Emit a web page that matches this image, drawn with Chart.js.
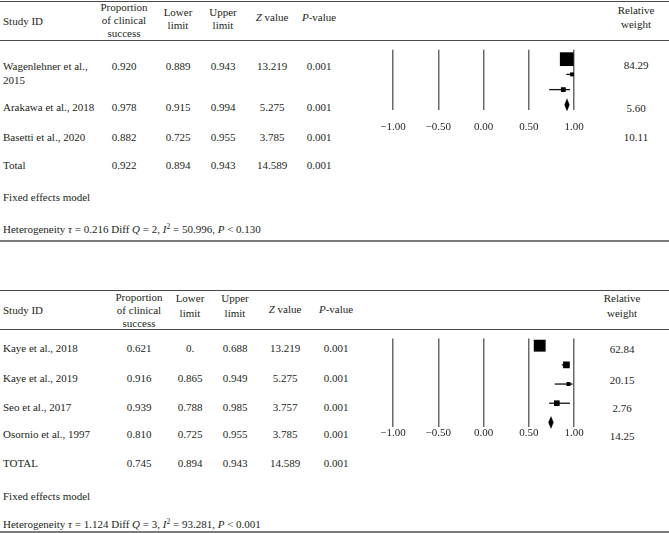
<!DOCTYPE html>
<html><head><meta charset="utf-8">
<script src="https://cdn.jsdelivr.net/npm/chart.js@4.4.1/dist/chart.umd.min.js"></script>
<style>
html,body{margin:0;padding:0;background:#fff;}
#page{position:relative;width:669px;height:533px;overflow:hidden;font-family:"Liberation Serif","Times New Roman",serif;font-size:11px;color:#231f20;}
.t{position:absolute;white-space:nowrap;line-height:14px;}
.c{text-align:center;width:100px;margin-left:-50px;}
.w{white-space:normal;width:96px;}
.hl{position:absolute;left:0;width:669px;}
canvas{position:absolute;}
sup{font-size:7.5px;line-height:0;vertical-align:4px;}
</style></head><body><div id="page"></div>
<script>
// ---------------- DATA ----------------
const headers = ["Study ID", "Proportion of clinical success", "Lower limit", "Upper limit", "Z value", "P-value", "Relative weight"];
const tickValues = [-1.00, -0.50, 0.00, 0.50, 1.00];

// Table / plot 1
const studies1 = ["Wagenlehner et al., 2015", "Arakawa et al., 2018", "Basetti et al., 2020"];
const prop1   = ["0.920", "0.978", "0.882"];
const lower1  = ["0.889", "0.915", "0.725"];
const upper1  = ["0.943", "0.994", "0.955"];
const z1      = ["13.219", "5.275", "3.785"];
const p1      = ["0.001", "0.001", "0.001"];
const weight1 = ["84.29", "5.60", "10.11"];
const total1  = ["Total", "0.922", "0.894", "0.943", "14.589", "0.001"];
const het1    = ["0.216", "2", "50.996", "< 0.130"];

// Table / plot 2
const studies2 = ["Kaye et al., 2018", "Kaye et al., 2019", "Seo et al., 2017", "Osornio et al., 1997"];
const prop2   = ["0.621", "0.916", "0.939", "0.810"];
const lower2  = ["0.", "0.865", "0.788", "0.725"];
const upper2  = ["0.688", "0.949", "0.985", "0.955"];
const z2      = ["13.219", "5.275", "3.757", "3.785"];
const p2      = ["0.001", "0.001", "0.001", "0.001"];
const weight2 = ["62.84", "20.15", "2.76", "14.25"];
const total2  = ["TOTAL", "0.745", "0.894", "0.943", "14.589", "0.001"];
const het2    = ["1.124", "3", "93.281", "< 0.001"];

const modelLabel = "Fixed effects model";

// ---------------- LAYOUT (positions only) ----------------
const L1 = {top:1, head:40, bottom:240, rows:[66,107,137,165], fixed:197, het:229,
  wy:[65,108,137], cols:[124,178,223,272,319], wcol:636,
  hProp:[7,20,33], hLim:[12,25], hStudy:21, hZP:17, hRel:[10,24],
  chart:{left:363, top:40, width:241, height:100, axisH:30, tickPad:11, yMin:-0.62, yMax:3.34}};
const L2 = {top:290, head:329, bottom:531, rows:[348,378,407,434,463], fixed:496, het:524,
  wy:[349,380,408,436], cols:[139,190,235,285,336], wcol:622,
  hProp:[297,310,323], hLim:[298,313], hStudy:310, hZP:309, hRel:[298,313],
  chart:{left:363, top:330, width:241, height:114, axisH:17, tickPad:0, yMin:-0.38, yMax:4.24}};

const page = document.getElementById('page');
function txt(html, x, y, cls, lines) {
  const d = document.createElement('div');
  d.className = 't ' + (cls || '');
  d.innerHTML = html;
  d.style.left = x + 'px';
  d.style.top = (y - 7) + 'px';
  page.appendChild(d);
  return d;
}
function multi(words, x, ys, lh) {
  const d = document.createElement('div');
  d.className = 't c';
  d.style.left = x + 'px';
  d.style.lineHeight = lh + 'px';
  d.style.top = (ys[0] - lh / 2) + 'px';
  d.innerHTML = words.join('<br>');
  page.appendChild(d);
}
function hline(y, w, color) {
  const d = document.createElement('div');
  d.className = 'hl';
  d.style.top = y + 'px';
  d.style.height = w + 'px';
  d.style.background = color;
  page.appendChild(d);
}
function italicize(h) {
  return h.replace(/^Z /, '<i>Z</i> ').replace(/^P-/, '<i>P</i>-');
}

function buildTable(L, studies, cols, weights, total, het) {
  hline(L.top, 1, '#4a4a4a');
  hline(L.head, 1, '#4a4a4a');
  hline(L.bottom, 2, '#7a7a7a');
  // headers
  txt(headers[0], 3, L.hStudy);
  multi(headers[1].replace('Proportion of clinical success', 'Proportion|of clinical|success').split('|'), L.cols[0], L.hProp, (L.hProp[2]-L.hProp[0])/2);
  multi(headers[2].split(' '), L.cols[1], L.hLim, L.hLim[1]-L.hLim[0]);
  multi(headers[3].split(' '), L.cols[2], L.hLim, L.hLim[1]-L.hLim[0]);
  txt(italicize(headers[4]), L.cols[3], L.hZP, 'c');
  txt(italicize(headers[5]), L.cols[4], L.hZP, 'c');
  multi(headers[6].split(' '), L.wcol, L.hRel, L.hRel[1]-L.hRel[0]);
  // rows
  studies.forEach((s, i) => {
    txt(s, 3, L.rows[i], 'w');
    cols.forEach((col, j) => txt(col[i], L.cols[j], L.rows[i], 'c'));
  });
  const tr = L.rows[studies.length];
  txt(total[0], 3, tr);
  total.slice(1).forEach((v, j) => txt(v, L.cols[j], tr, 'c'));
  weights.forEach((w, i) => txt(w, L.wcol, L.wy[i], 'c'));
  txt(modelLabel, 3, L.fixed);
  txt('Heterogeneity <i>τ</i> = ' + het[0] + ' Diff <i>Q</i> = ' + het[1] + ', <i>I</i><sup>2</sup> = ' + het[2] + ', <i>P</i> ' + het[3].replace('<', '&lt;'), 3, L.het);
}

buildTable(L1, studies1, [prop1, lower1, upper1, z1, p1], weight1, total1, het1);
buildTable(L2, studies2, [prop2, lower2, upper2, z2, p2], weight2, total2, het2);

// ---------------- FOREST PLOTS ----------------
const diamond = document.createElement('canvas');
diamond.width = 6; diamond.height = 13;
(function(){ const c = diamond.getContext('2d'); c.fillStyle = '#000'; c.beginPath();
  c.moveTo(3,0); c.lineTo(5.6,6.5); c.lineTo(3,13); c.lineTo(0.4,6.5); c.closePath(); c.fill(); })();

const num = s => (/^\d+\.\d+$/.test(s) ? parseFloat(s) : null);

function forest(L, prop, lower, upper, weights, total) {
  const g = L.chart;
  const cv = document.createElement('canvas');
  cv.style.left = g.left + 'px'; cv.style.top = g.top + 'px';
  cv.style.width = g.width + 'px'; cv.style.height = g.height + 'px';
  cv.width = g.width; cv.height = g.height;
  page.appendChild(cv);
  const datasets = [];
  datasets.push({
    type: 'scatter',
    data: prop.map((v, i) => ({x: num(v), y: i})),
    pointStyle: 'rect',
    pointRadius: weights.map(w => Math.max(2.8, 1.06 * Math.sqrt(parseFloat(w)))),
    backgroundColor: '#000', borderWidth: 0, clip: false
  });
  datasets.push({
    type: 'scatter',
    data: [{x: num(total[1]), y: prop.length}],
    pointStyle: diamond, pointRadius: 6, clip: false
  });
  prop.forEach((v, i) => {
    const lo = num(lower[i]), hi = num(upper[i]);
    if (lo === null || hi === null) return;
    datasets.push({
      type: 'line',
      data: [{x: lo, y: i}, {x: hi, y: i}],
      borderColor: '#111', borderWidth: 1.3, pointRadius: 0, clip: false
    });
  });
  new Chart(cv, {
    data: {datasets},
    options: {
      responsive: false, animation: false, devicePixelRatio: 1,
      events: [],
      layout: {padding: {left: 30, right: 30, top: 0, bottom: 0}},
      plugins: {legend: {display: false}, tooltip: {enabled: false}},
      scales: {
        x: {
          type: 'linear', min: tickValues[0], max: tickValues[tickValues.length - 1],
          afterBuildTicks: s => { s.ticks = tickValues.map(v => ({value: v})); },
          afterFit: s => { s.height = g.axisH; },
          grid: {color: '#6a6a6a', lineWidth: 1.5, drawTicks: false},
          border: {display: false},
          ticks: {
            padding: g.tickPad, color: '#231f20', maxRotation: 0, autoSkip: false,
            font: {family: "'Liberation Serif', 'Times New Roman', serif", size: 11},
            callback: v => (v < 0 ? '\u2212' : '') + Math.abs(v).toFixed(2)
          }
        },
        y: {type: 'linear', display: false, reverse: true, min: g.yMin, max: g.yMax}
      }
    }
  });
}

forest(L1, prop1, lower1, upper1, weight1, total1);
forest(L2, prop2, lower2, upper2, weight2, total2);
</script></body></html>
